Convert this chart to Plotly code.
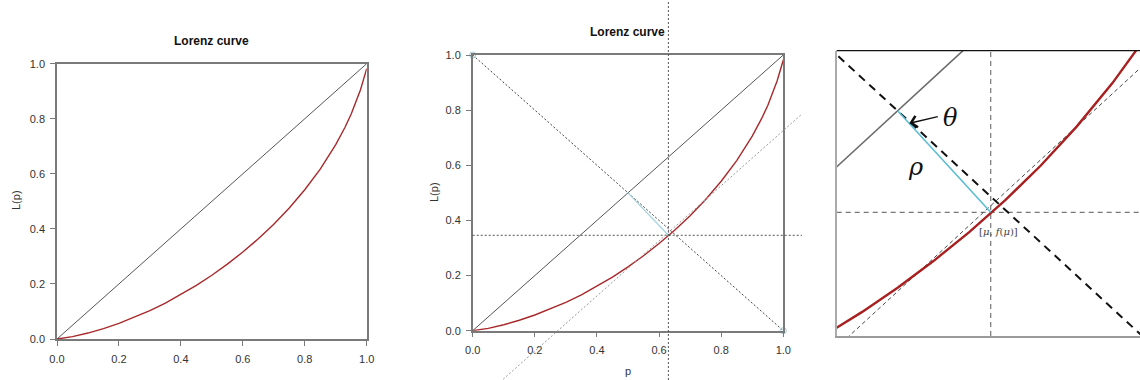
import plotly.graph_objects as go

# ---------------- data ----------------
P = [0.0, 0.05, 0.1, 0.15, 0.2, 0.25, 0.3, 0.35, 0.4, 0.45, 0.5, 0.55, 0.6, 0.65,
     0.7, 0.75, 0.8, 0.85, 0.9, 0.93, 0.95, 0.97, 0.98, 0.99, 0.995, 1.0]
L = [0.0, 0.0085, 0.0216, 0.0378, 0.0569, 0.0786, 0.1030, 0.1302, 0.1610, 0.1945,
     0.2315, 0.2720, 0.3160, 0.3640, 0.4170, 0.4760, 0.5420, 0.6170, 0.7060, 0.7690,
     0.8170, 0.8730, 0.9055, 0.9440, 0.9670, 0.9820]
EQ_X = [0.0, 1.0]           # line of equality
EQ_Y = [0.0, 1.0]
ANTI_X = [0.0, 1.0]         # anti-diagonal
ANTI_Y = [1.0, 0.0]
MU = 0.63                   # tangent point [mu, f(mu)]
F_MU = 0.346
TAN_X = [0.098, 1.06]       # tangent of slope 1
TAN_Y = [-0.176, 0.786]
RHO_X = [0.5, MU]           # rho segment
RHO_Y = [0.5, F_MU]
END_X = [0.0, 1.0]          # end circles
END_Y = [1.0, 0.0]
TICKS = [0.0, 0.2, 0.4, 0.6, 0.8, 1.0]
TICK_TEXT = ["0.0", "0.2", "0.4", "0.6", "0.8", "1.0"]
ZOOM_X = [0.4149, 0.8385]
ZOOM_Y = [0.1583, 0.5912]

W, H = 1140, 380
def px(x): return x / W
def py(y): return 1 - y / H

RED = "#a8292b"
FONT = "Liberation Sans, Arial, sans-serif"
SERIF = "DejaVu Serif, Liberation Serif, serif"

fig = go.Figure()

# ---- panel 1 ----
fig.add_trace(go.Scatter(x=EQ_X, y=EQ_Y, mode="lines", line=dict(color="#555", width=1),
                         xaxis="x", yaxis="y", showlegend=False))
fig.add_trace(go.Scatter(x=P, y=L, mode="lines", line=dict(color=RED, width=1.4),
                         xaxis="x", yaxis="y", showlegend=False))

# ---- panel 2 ----
fig.add_trace(go.Scatter(x=ANTI_X, y=ANTI_Y, mode="lines",
                         line=dict(color="#444", width=1, dash="2px,2px"),
                         xaxis="x2", yaxis="y2", showlegend=False))
fig.add_trace(go.Scatter(x=EQ_X, y=EQ_Y, mode="lines", line=dict(color="#555", width=1),
                         xaxis="x2", yaxis="y2", showlegend=False))
fig.add_trace(go.Scatter(x=P, y=L, mode="lines", line=dict(color=RED, width=1.4),
                         xaxis="x2", yaxis="y2", showlegend=False))
fig.add_trace(go.Scatter(x=RHO_X, y=RHO_Y, mode="lines", line=dict(color="#a9d3e0", width=1.3),
                         xaxis="x2", yaxis="y2", showlegend=False))
fig.add_trace(go.Scatter(x=END_X, y=END_Y, mode="markers",
                         marker=dict(symbol="circle-open", size=6, color="#9fc9d6",
                                     line=dict(width=1, color="#9fc9d6")),
                         cliponaxis=False, xaxis="x2", yaxis="y2", showlegend=False))

# ---- panel 3 (zoom) ----
fig.add_trace(go.Scatter(x=TAN_X, y=TAN_Y, mode="lines",
                         line=dict(color="#333", width=0.9, dash="4px,3px"),
                         xaxis="x3", yaxis="y3", showlegend=False))
fig.add_trace(go.Scatter(x=ANTI_X, y=ANTI_Y, mode="lines",
                         line=dict(color="#111", width=2, dash="8px,6px"),
                         xaxis="x3", yaxis="y3", showlegend=False))
fig.add_trace(go.Scatter(x=EQ_X, y=EQ_Y, mode="lines", line=dict(color="#6a6a6a", width=1.6),
                         xaxis="x3", yaxis="y3", showlegend=False))
fig.add_trace(go.Scatter(x=P, y=L, mode="lines", line=dict(color="#a82020", width=2.4),
                         xaxis="x3", yaxis="y3", showlegend=False))
fig.add_trace(go.Scatter(x=RHO_X, y=RHO_Y, mode="lines", line=dict(color="#5cbdd5", width=1.6),
                         xaxis="x3", yaxis="y3", showlegend=False))

shapes = [
    # panel 2 guides
    dict(type="line", xref="x2", yref="paper", x0=MU, x1=MU, y0=0, y1=1,
         line=dict(color="#555", width=1, dash="2px,2px"), layer="above"),
    dict(type="line", xref="x2 domain", yref="y2", x0=0, x1=TAN_X[1], y0=F_MU, y1=F_MU,
         line=dict(color="#555", width=1, dash="2px,2px"), layer="above"),
    dict(type="line", xref="x2 domain", yref="y2 domain", x0=TAN_X[0], x1=TAN_X[1],
         y0=TAN_Y[0], y1=TAN_Y[1], line=dict(color="#999", width=1, dash="2px,2px"), layer="above"),
    # panel 3 guides
    dict(type="line", xref="x3", yref="y3 domain", x0=MU, x1=MU, y0=0, y1=1,
         line=dict(color="#777", width=1.2, dash="5px,4px"), layer="below"),
    dict(type="line", xref="x3 domain", yref="y3", x0=0, x1=1, y0=F_MU, y1=F_MU,
         line=dict(color="#777", width=1.2, dash="5px,4px"), layer="below"),
    dict(type="line", xref="x3 domain", yref="y3 domain", x0=0, x1=1, y0=1, y1=1,
         line=dict(color="#111", width=1.3)),
]

axis_common = dict(range=[0, 1], showgrid=False, zeroline=False, showline=True, mirror=True,
                   linecolor="#7a7a7a", linewidth=1.5, ticks="outside", ticklen=5,
                   tickcolor="#7a7a7a", tickwidth=1, tickvals=TICKS, ticktext=TICK_TEXT,
                   tickfont=dict(family=FONT, size=11, color="#333"), fixedrange=True,
                   automargin=False)

def ann(text, x, y, size=11, angle=0, color="#333"):
    return dict(text=text, xref="paper", yref="paper", x=px(x), y=py(y), textangle=angle,
                xanchor="center", yanchor="middle", showarrow=False,
                font=dict(family=FONT, size=size, color=color))

fig.update_layout(
    template="none",
    width=W, height=H, margin=dict(l=0, r=0, t=0, b=0, pad=0),
    paper_bgcolor="white", plot_bgcolor="white", showlegend=False,
    xaxis=dict(axis_common, domain=[px(57), px(366.7)], anchor="y", ticklabelstandoff=4),
    yaxis=dict(axis_common, domain=[py(339), py(63.7)], anchor="x", ticklabelstandoff=3),
    xaxis2=dict(axis_common, domain=[px(472.7), px(783.3)], anchor="y2", ticklabelstandoff=3),
    yaxis2=dict(axis_common, domain=[py(330.7), py(55)], anchor="x2", ticklabelstandoff=3),
    xaxis3=dict(range=ZOOM_X, domain=[px(836.7), 1.0], anchor="y3", showgrid=False,
                zeroline=False, showticklabels=False, ticks="", showline=True,
                linecolor="#9a9a9a", linewidth=2, automargin=False),
    yaxis3=dict(range=ZOOM_Y, domain=[py(336), py(50.7)], anchor="x3", showgrid=False,
                zeroline=False, showticklabels=False, ticks="", showline=True,
                linecolor="#ababab", linewidth=2, automargin=False),
    shapes=shapes,
    annotations=[
        ann("<b>Lorenz curve</b>", 211, 40.7, size=12, color="#111"),
        ann("<b>Lorenz curve</b>", 627.7, 32.3, size=12, color="#111"),
        ann("L(p)", 16, 200, angle=-90),
        ann("L(p)", 433.3, 191.7, angle=-90),
        ann("p", 627.7, 371),
        # panel 3 labels
        dict(text="", xref="x3", yref="y3", x=0.5163, y=0.481, ax=30, ay=-7,
             showarrow=True, arrowhead=4, arrowsize=1.6, arrowwidth=1.4, arrowcolor="#111"),
        dict(text="<i>θ</i>", xref="x3", yref="y3", x=0.5735, y=0.4886, showarrow=False,
             xanchor="center", yanchor="middle",
             font=dict(family=SERIF, size=24, color="#111")),
        dict(text="<i>ρ</i>", xref="x3", yref="y3", x=0.5253, y=0.4152, showarrow=False,
             xanchor="center", yanchor="middle",
             font=dict(family=SERIF, size=24, color="#111")),
        dict(text="[<i>μ</i>, <i>f</i>(<i>μ</i>)]", xref="x3", yref="y3", x=0.6406, y=0.3166,
             showarrow=False, xanchor="center", yanchor="middle",
             font=dict(family=SERIF, size=10, color="#444")),
    ],
)

fig.write_html("out.html")
